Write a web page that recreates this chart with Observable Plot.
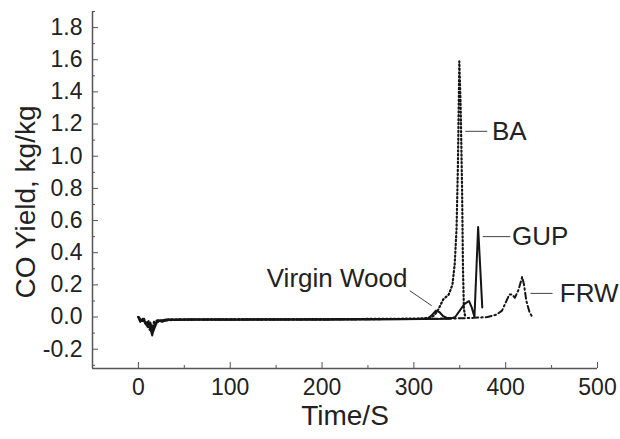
<!DOCTYPE html>
<html>
<head>
<meta charset="utf-8">
<script src="https://cdn.jsdelivr.net/npm/d3@7"></script>
<script src="https://cdn.jsdelivr.net/npm/@observablehq/plot@0.6"></script>
<style>
  html, body { margin: 0; padding: 0; background: #fff; }
  #chart { width: 620px; height: 439px; }
</style>
</head>
<body>
<div id="chart"></div>
<script>
// ---- Data ----
const vwT = [0, 2, 5, 8, 11, 15, 18, 22, 26, 31, 40, 60, 100, 150, 200, 250, 300, 315, 320, 324, 328, 332, 336, 345];
const vwY = [0, -0.03, -0.01, -0.045, -0.025, -0.115, -0.04, -0.02, -0.03, -0.015, -0.018, -0.016, -0.017, -0.015, -0.016, -0.014, -0.012, -0.01, 0.015, 0.04, 0.03, 0.005, -0.006, -0.006];

const baT = [0, 3, 6, 10, 14, 17, 21, 25, 30, 40, 80, 150, 220, 300, 318, 322, 326, 332, 338, 342, 344.5, 346.5, 348, 349.5, 351, 352.5, 353.5, 354.5, 356];
const baY = [0, -0.02, -0.01, -0.06, -0.09, -0.03, -0.02, -0.025, -0.015, -0.016, -0.015, -0.014, -0.013, -0.01, -0.005, 0.01, 0.04, 0.11, 0.14, 0.2, 0.33, 0.55, 0.95, 1.59, 1.3, 0.8, 0.3, 0.05, 0];

const gupT = [0, 2, 5, 9, 13, 16, 20, 24, 28, 35, 60, 120, 200, 280, 340, 345, 350, 355, 360, 363, 366, 370, 374.5];
const gupY = [0, -0.025, -0.015, -0.05, -0.035, -0.09, -0.035, -0.02, -0.025, -0.015, -0.015, -0.016, -0.015, -0.013, -0.01, 0, 0.04, 0.08, 0.1, 0.06, 0, 0.56, 0.06];

const frwT = [0, 3, 7, 11, 15, 19, 23, 27, 33, 45, 90, 160, 230, 300, 350, 365, 380, 390, 396, 400, 404, 407, 410, 414, 418, 420, 422.5, 426, 429];
const frwY = [0, -0.02, -0.03, -0.04, -0.1, -0.03, -0.025, -0.02, -0.02, -0.016, -0.015, -0.016, -0.014, -0.012, -0.008, -0.005, 0.0, 0.015, 0.04, 0.09, 0.14, 0.14, 0.12, 0.17, 0.25, 0.2, 0.1, 0.03, 0];

// Annotation labels and leader lines
const labelNames = ["BA", "GUP", "FRW", "Virgin Wood"];
const labelT = [385, 407, 459, 293];
const labelY = [1.155, 0.50, 0.147, 0.24];
const labelAnchor = ["start", "start", "start", "end"];
const leadT1 = [356, 375, 427, 295.5];
const leadY1 = [1.155, 0.50, 0.147, 0.164];
const leadT2 = [380, 405, 451, 319.5];
const leadY2 = [1.155, 0.50, 0.147, 0.07];

// Axis ticks and titles
const xMajor = [0, 100, 200, 300, 400, 500];
const xMinor = [-50, 50, 150, 250, 350, 450];
const yMajor = [-0.2, 0, 0.2, 0.4, 0.6, 0.8, 1.0, 1.2, 1.4, 1.6, 1.8];
const yMinor = [-0.3, -0.1, 0.1, 0.3, 0.5, 0.7, 0.9, 1.1, 1.3, 1.5, 1.7, 1.9];
const xTitle = "Time/S";
const yTitle = "CO Yield, kg/kg";

// ---- Build tables ----
const toRows = (ts, ys) => ts.map((t, i) => ({t, y: ys[i]}));
const vw = toRows(vwT, vwY);
const ba = toRows(baT, baY);
const gup = toRows(gupT, gupY);
const frw = toRows(frwT, frwY);
const labels = labelNames.map((name, i) => ({name, t: labelT[i], y: labelY[i], anchor: labelAnchor[i]}));
const leaders = labelNames.map((name, i) => ({x1: leadT1[i], y1: leadY1[i], x2: leadT2[i], y2: leadY2[i]}));

const ink = "#151515";
const axisInk = "#555";
const font = "'Liberation Sans', Arial, Helvetica, sans-serif";

const chart = Plot.plot({
  width: 620,
  height: 439,
  marginLeft: 92,
  marginRight: 23,
  marginTop: 11,
  marginBottom: 71,
  x: {domain: [-50, 500]},
  y: {domain: [-0.32, 1.9]},
  style: {fontFamily: font, fontSize: "23px", color: "#222", background: "#fff"},
  marks: [
    // minor ticks
    Plot.axisX(xMinor, {tickSize: -3, tickFormat: () => "", label: null, stroke: axisInk}),
    Plot.axisY(yMinor, {tickSize: -3, tickFormat: () => "", label: null, stroke: axisInk}),
    // major ticks + labels
    Plot.axisX(xMajor, {tickSize: -6, tickPadding: 16, fontSize: 23, stroke: axisInk, label: null}),
    Plot.axisY(yMajor, {tickSize: -6, tickPadding: 16, fontSize: 23, stroke: axisInk, label: null,
      tickFormat: d => d.toFixed(1)}),
    Plot.ruleX([-50], {stroke: axisInk, strokeWidth: 1.5}),
    Plot.ruleY([-0.32], {stroke: axisInk, strokeWidth: 1.5}),
    // axis titles
    Plot.text([xTitle], {frameAnchor: "bottom", dy: 48, text: d => d, fontSize: 28, fill: "#222",
      textAnchor: "middle", lineAnchor: "middle"}),
    Plot.text([yTitle], {frameAnchor: "left", dx: -66, dy: 12, rotate: -90, text: d => d, fontSize: 28, fill: "#222",
      textAnchor: "middle", lineAnchor: "middle"}),
    // series
    Plot.line(vw, {x: "t", y: "y", stroke: ink, strokeWidth: 2}),
    Plot.line(ba, {x: "t", y: "y", stroke: ink, strokeWidth: 2.2, strokeDasharray: "1.3,2.6"}),
    Plot.line(gup, {x: "t", y: "y", stroke: ink, strokeWidth: 2}),
    Plot.line(frw, {x: "t", y: "y", stroke: ink, strokeWidth: 2, strokeDasharray: "6,3,1.5,3"}),
    // annotations
    Plot.link(leaders, {x1: "x1", y1: "y1", x2: "x2", y2: "y2", stroke: "#444", strokeWidth: 1}),
    Plot.text(labels.filter(d => d.anchor === "start"), {x: "t", y: "y", text: "name", textAnchor: "start", fontSize: 26, fill: "#222"}),
    Plot.text(labels.filter(d => d.anchor === "end"), {x: "t", y: "y", text: "name", textAnchor: "end", fontSize: 26, fill: "#222"})
  ]
});
document.getElementById("chart").appendChild(chart);
</script>
</body>
</html>
